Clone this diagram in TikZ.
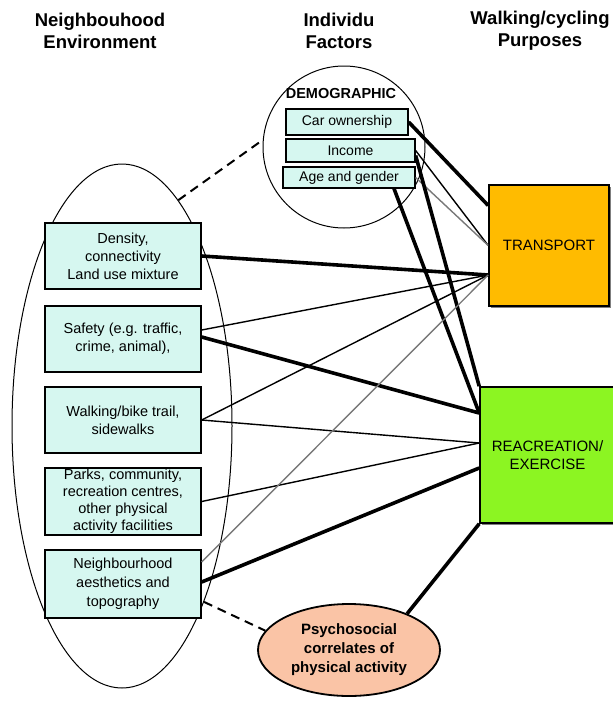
\documentclass[tikz,border=0pt]{standalone}
\usepackage{fontspec}
\setmainfont{Liberation Sans}
\usetikzlibrary{shapes.geometric,shadows}

\definecolor{boxfill}{RGB}{214,247,240}
\definecolor{transfill}{RGB}{255,187,0}
\definecolor{recfill}{RGB}{140,245,34}
\definecolor{psyfill}{RGB}{250,196,166}
\definecolor{lightline}{RGB}{120,120,120}

\begin{document}
\begin{tikzpicture}[x=1pt,y=-1pt,
  heading/.style={align=center,font=\fontsize{18.5}{22}\selectfont\bfseries},
  envbox/.style={draw=black,line width=1.4pt,fill=boxfill,minimum width=156pt,
    minimum height=66pt,inner sep=0pt,align=center,
    font=\fontsize{14.5}{18}\selectfont,
    drop shadow={shadow xshift=1.3pt,shadow yshift=-1.3pt,fill=black,opacity=0.6}},
  demobox/.style={draw=black,line width=1.3pt,fill=boxfill,inner sep=0pt,
    align=center,font=\fontsize{14}{16}\selectfont,
    drop shadow={shadow xshift=1.2pt,shadow yshift=-1.2pt,fill=black,opacity=0.6}},
  purpose/.style={draw=black,line width=1.6pt,inner sep=0pt,align=center,
    font=\fontsize{15}{18}\selectfont,
    drop shadow={shadow xshift=2pt,shadow yshift=-2pt,fill=black,opacity=0.5}},
  thick link/.style={line width=3.6pt},
  thin link/.style={line width=1.4pt},
  grey link/.style={line width=1.4pt,draw=lightline},
  dashed link/.style={line width=2pt,dash pattern=on 9pt off 6pt},
]
\useasboundingbox (0,0) rectangle (613,702);

% column headings
\node[heading] (hEnv) at (100,31) {Neighbouhood\\Environment};
\node[heading] (hInd) at (339,31) {Individu\\Factors};
\node[heading] (hPur) at (540,31) {Walking/cycling\\Purposes};

% neighbourhood environment
\node[draw,ellipse,line width=1pt,inner sep=0pt,minimum width=220pt,
  minimum height=524pt] (env) at (122,426) {};
\node[envbox] (d1) at (123,256) {Density,\\connectivity\\Land use mixture};
\node[envbox] (d2) at (123,339) {Safety (e.g. traffic,\\crime, animal),};
\node[envbox] (d3) at (123,420) {Walking/bike trail,\\sidewalks};
\node[envbox,minimum height=67pt,font=\fontsize{14.5}{17}\selectfont] (d4) at (123,501.5)
  {Parks, community,\\recreation centres,\\other physical\\activity facilities};
\node[envbox,minimum height=68pt,font=\fontsize{14.5}{19}\selectfont] (d5) at (123,584)
  {Neighbourhood\\aesthetics and\\topography};

% individual factors
\node[draw,circle,line width=1pt,inner sep=0pt,minimum size=162pt] (demo) at (344,147) {};
\node[font=\fontsize{14.5}{16}\selectfont\bfseries,inner sep=0pt] (demoT) at (341,94) {DEMOGRAPHIC};
\node[demobox,minimum width=122pt,minimum height=26pt] (car) at (347,122) {Car ownership};
\node[demobox,minimum width=129pt,minimum height=23pt] (income) at (350.5,150.5) {Income};
\node[demobox,minimum width=132pt,minimum height=21pt] (age) at (349,177.5) {Age and gender};

% purposes
\node[purpose,fill=transfill,minimum width=120pt,minimum height=121pt] (tr) at (549,245.5) {TRANSPORT};
\node[purpose,fill=recfill,minimum width=135pt,minimum height=136pt] (rec) at (547.5,455)
  {REACREATION/\\EXERCISE};

% psychosocial correlates
\node[draw,ellipse,fill=psyfill,line width=1.8pt,inner sep=0pt,minimum width=182pt,
  minimum height=92pt,align=center,font=\fontsize{15}{19}\selectfont\bfseries] (psy) at (349,650)
  {Psychosocial\\correlates of\\physical activity};

% links from the demographic factors
\draw[thick link] (car.east) -- ([yshift=40pt]tr.west);
\draw[thin link] (income.east) -- (tr.west);
\draw[grey link] (age.east) -- (tr.west);
\draw[thick link] ([yshift=-5pt]income.east) -- (rec.north west);
\draw[thick link] ([xshift=45pt]age.south) -- ([yshift=42pt]rec.west);

% links from the neighbourhood environment
\draw[thick link] (d1.east) -- ([yshift=-29.5pt]tr.west);
\draw[thin link] ([yshift=9pt]d2.east) -- ([yshift=-29.5pt]tr.west);
\draw[thick link] ([yshift=2pt]d2.east) -- ([yshift=42pt]rec.west);
\draw[thin link] (d3.east) -- ([yshift=-29.5pt]tr.west);
\draw[thin link] (d3.east) -- ([yshift=12pt]rec.west);
\draw[thin link] (d4.east) -- ([yshift=12pt]rec.west);
\draw[grey link] ([yshift=22pt]d5.east) -- ([yshift=-29.5pt]tr.west);
\draw[thick link] ([yshift=2pt]d5.east) -- ([yshift=-13pt]rec.west);

% psychosocial link and the dashed associations
\draw[thick link] (psy.32) -- (rec.south west);
\draw[dashed link] (env.76) -- (demo.175);
\draw[dashed link] (env.-65) -- (psy.167);
\end{tikzpicture}
\end{document}
